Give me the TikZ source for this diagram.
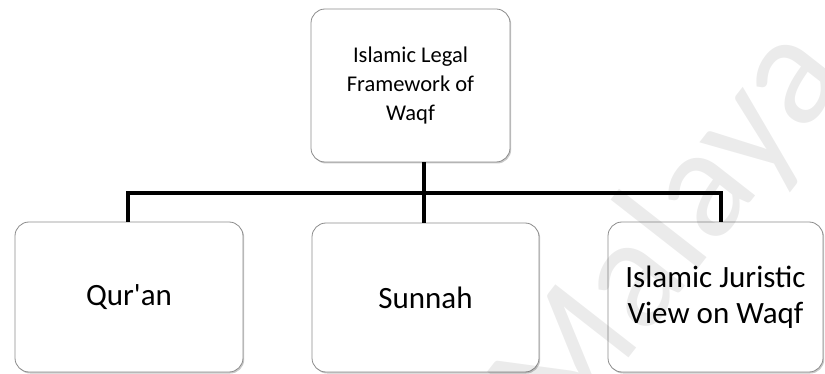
\documentclass[tikz,border=0pt]{standalone}
\usepackage{fontspec}
\setmainfont{Carlito}
\usetikzlibrary{shadows}
\begin{document}
\begin{tikzpicture}[x=1pt,y=-1pt,
  box/.style={draw=black!45, line width=0.8pt, rounded corners=14pt, fill=white,
    drop shadow={shadow xshift=1.2pt, shadow yshift=-1.5pt, opacity=0.35, fill=black!60},
    align=center, inner sep=0pt},
  link/.style={line width=4pt, black}]
  \useasboundingbox (0,0) rectangle (825,374);
  % boxes
  \node[box, minimum width=199pt, minimum height=153pt,
        font=\fontsize{22.5}{29}\selectfont] (top) at (410.5,85.5)
        {Islamic Legal\\Framework of\\Waqf};
  \node[box, minimum width=228pt, minimum height=150pt,
        font=\fontsize{31}{36}\selectfont] (quran) at (129,297) {Qur\textquotesingle an};
  \node[box, minimum width=227pt, minimum height=149pt,
        font=\fontsize{31}{36}\selectfont] (sunnah) at (425.5,297.5) {Sunnah};
  \node[box, minimum width=215pt, minimum height=150pt,
        font=\fontsize{31}{36}\selectfont] (juris) at (715.5,297) {Islamic Juristic\\View on Waqf};
  % connectors
  \coordinate (bar) at (424,193);
  \draw[link] (top.south -| bar) -- (sunnah.north -| bar);
  \draw[link] (quran.north -| 128,0) |- (bar) -| (juris.north -| 721,0);
  % faint watermark over the right-hand side
  \begin{scope}
    \clip (0,0) rectangle (825,374);
    \node[text=black, text opacity=0.08, font=\fontsize{160}{160}\selectfont,
          rotate=52, anchor=base east, inner sep=0pt]
      (wm) at (850,75) {Malaya};
  \end{scope}
\end{tikzpicture}
\end{document}
